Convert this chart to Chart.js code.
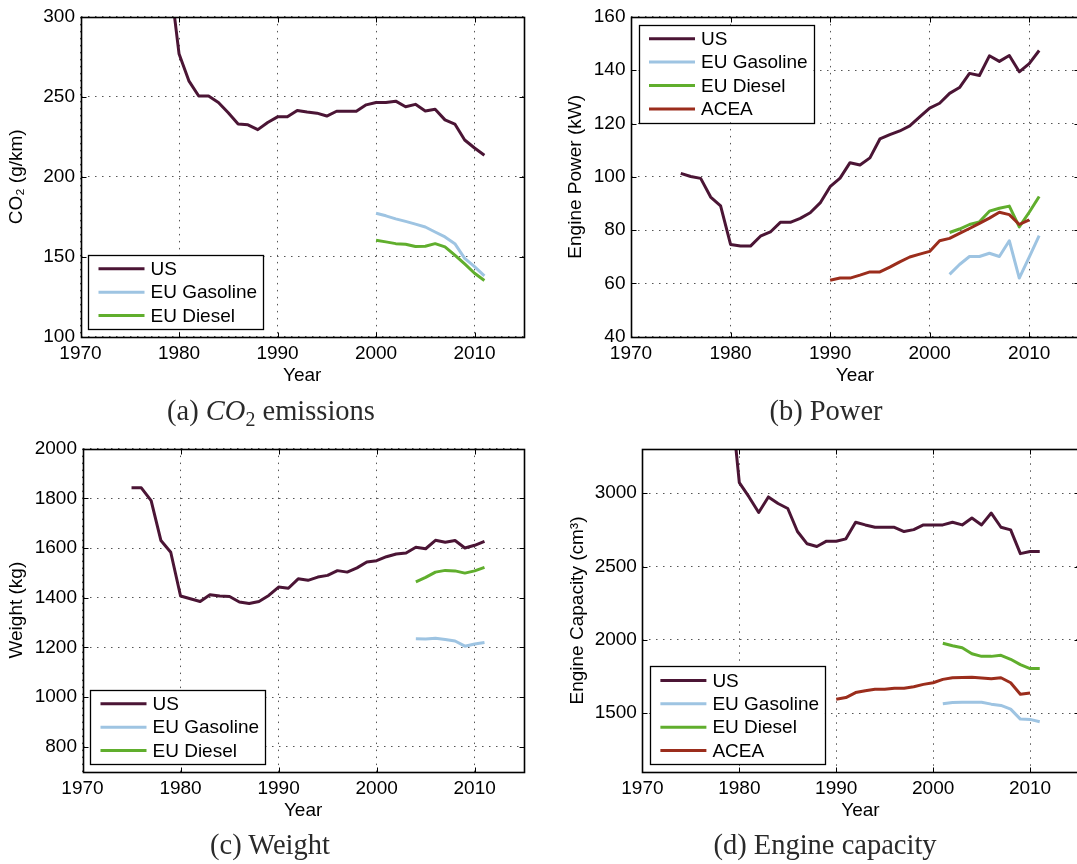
<!DOCTYPE html>
<html>
<head>
<meta charset="utf-8">
<script src="https://cdn.jsdelivr.net/npm/chart.js@4.4.1/dist/chart.umd.min.js"></script>
<style>
  html, body { margin: 0; padding: 0; background: #fff; width: 1077px; height: 864px; overflow: hidden; }
  canvas { position: absolute; left: 0; top: 0; }
  .cap {
    position: absolute; white-space: nowrap; transform: translate(-50%, -50%);
    font-family: "Liberation Serif", "DejaVu Serif", serif; font-size: 28.5px; color: #2a2a2a;
  }
  .cap sub { font-size: 0.7em; vertical-align: baseline; position: relative; top: 0.3em; }
</style>
</head>
<body>
<canvas id="co2" width="1085" height="864"></canvas>
<canvas id="power" width="1085" height="864"></canvas>
<canvas id="weight" width="1085" height="864"></canvas>
<canvas id="capacity" width="1085" height="864"></canvas>

<div class="cap" style="left:271px; top:411px">(a) <i>CO</i><sub>2</sub> emissions</div>
<div class="cap" style="left:826px; top:411px">(b) Power</div>
<div class="cap" style="left:270px; top:845px">(c) Weight</div>
<div class="cap" style="left:825px; top:845px">(d) Engine capacity</div>

<script>
// ---- years ----
const yrs1975 = [1975,1976,1977,1978,1979,1980,1981,1982,1983,1984,1985,1986,1987,1988,1989,1990,1991,1992,1993,1994,1995,1996,1997,1998,1999,2000,2001,2002,2003,2004,2005,2006,2007,2008,2009,2010,2011];
const yrs1979 = [1979,1980,1981,1982,1983,1984,1985,1986,1987,1988,1989,1990,1991,1992,1993,1994,1995,1996,1997,1998,1999,2000,2001,2002,2003,2004,2005,2006,2007,2008,2009,2010,2011];
const yrsAcea = [1990,1991,1992,1993,1994,1995,1996,1997,1998,1999,2000,2001,2002,2003,2004,2005,2006,2007,2008,2009,2010];
const yrs2000 = [2000,2001,2002,2003,2004,2005,2006,2007,2008,2009,2010,2011];
const yrs2001 = [2001,2002,2003,2004,2005,2006,2007,2008,2009,2010,2011];
const yrs2002 = [2002,2003,2004,2005,2006,2007,2008,2009,2010,2011];
const yrs2004 = [2004,2005,2006,2007,2008,2009,2010,2011];

// ---- (a) CO2 emissions, g/km ----
const co2US = [328,277,260,250.5,250.5,246.5,240,233,232.5,229.5,234,237.5,237.5,241.5,240.5,239.8,238,241,241,241,245,246.5,246.5,247.3,243.8,245.3,241.2,242.2,235.6,233,223,218,213.5];
const co2Gasoline = [177.2,175.6,173.7,172.1,170.4,168.6,165.5,162.4,158.2,149,143.8,138];
const co2Diesel = [160.3,159.3,158.2,157.8,156.4,156.6,158.2,156.2,151,145.5,139.7,135.2];

// ---- (b) engine power, kW ----
const powerUS = [101.3,100.1,99.4,92.4,89.1,74.6,74.0,74.0,77.7,79.3,82.9,82.9,84.4,86.5,90.2,96.3,99.5,105.3,104.4,107.1,114.2,115.8,117.2,119.1,122.5,125.8,127.6,131.3,133.5,138.8,138.0,145.4,143.3,145.5,139.4,142.5,147.4];
const powerGasoline = [63.4,67.1,70.1,70.1,71.3,70.1,76.0,62.0,69.9,77.9];
const powerDiesel = [79.1,80.4,82.1,83.1,87.1,88.2,89.0,81.2,86.7,92.6];
const powerACEA = [61.2,62.0,62.0,63.1,64.3,64.3,66.1,68.1,69.9,71.0,72.0,76.0,76.9,78.8,80.6,82.5,84.5,86.7,85.8,82.1,83.8];

// ---- (c) weight, kg ----
const weightUS = [1842,1842,1791,1630,1583,1407,1396,1385,1412,1407,1405,1383,1377,1385,1409,1443,1438,1476,1470,1483,1490,1509,1503,1520,1544,1549,1565,1576,1580,1603,1597,1631,1623,1630,1600,1611,1627];
const weightGasoline = [1235,1234,1237,1232,1226,1205,1214,1220];
const weightDiesel = [1464,1482,1503,1510,1508,1499,1508,1522];

// ---- (d) engine capacity, cm3 ----
const capUS = [3740,3072,2975,2869,2975,2930,2896,2739,2655,2637,2673,2673,2689,2802,2784,2768,2768,2768,2739,2752,2784,2784,2784,2802,2784,2831,2784,2865,2768,2750,2588,2603,2603];
const capGasoline = [1563,1572,1574,1574,1574,1561,1552,1527,1459,1457,1441];
const capDiesel = [1977,1959,1946,1905,1887,1887,1894,1867,1831,1804,1804];
const capACEA = [1595,1606,1640,1653,1662,1662,1669,1669,1680,1696,1707,1730,1741,1743,1745,1739,1734,1741,1707,1628,1637];

// ---- tick labels ----
const yearTicks = [1970,1980,1990,2000,2010];
const co2Ticks = [100,150,200,250,300];
const powerTicks = [40,60,80,100,120,140,160];
const weightTicks = [800,1000,1200,1400,1600,1800,2000];
const capTicks = [1500,2000,2500,3000];

const COLORS = { US: '#4b1535', 'EU Gasoline': '#9ec4e2', 'EU Diesel': '#60ae2d', ACEA: '#9b2d1c' };
const FONT = '"Liberation Sans", Arial, Helvetica, sans-serif';
const CANVAS_H = 864;
const Y_AXIS_W = 80;
const X_AXIS_H = 50;
const plain = v => String(v);

function series(label, years, values, idx, total) {
  return {
    label,
    data: years.map((yr, i) => ({ x: yr, y: values[i] })),
    borderColor: COLORS[label],
    backgroundColor: COLORS[label],
    borderWidth: 3,
    pointRadius: 0,
    tension: 0,
    fill: false,
    clip: 0,
    borderJoinStyle: 'round',
    order: total - idx   // later series are painted above earlier ones
  };
}

// Closed axes box with short inward tick marks on every side
const framePlugin = {
  id: 'frame',
  afterDatasetsDraw(chart) {
    const { ctx, chartArea: a, scales: { x, y } } = chart;
    const L = Math.round(a.left) + 0.5, R = Math.round(a.right) + 0.5;
    const T = Math.round(a.top) + 0.5, B = Math.round(a.bottom) + 0.5;
    ctx.save();
    ctx.strokeStyle = '#000';
    ctx.lineWidth = 1;
    ctx.beginPath();
    x.ticks.forEach(t => {
      const px = Math.round(x.getPixelForValue(t.value)) + 0.5;
      ctx.moveTo(px, B); ctx.lineTo(px, B - 5);
      ctx.moveTo(px, T); ctx.lineTo(px, T + 5);
    });
    y.ticks.forEach(t => {
      const py = Math.round(y.getPixelForValue(t.value)) + 0.5;
      ctx.moveTo(L, py); ctx.lineTo(L + 5, py);
      ctx.moveTo(R, py); ctx.lineTo(R - 5, py);
    });
    ctx.stroke();
    ctx.lineWidth = 1.6;
    ctx.strokeRect(L, T, R - L, B - T);
    ctx.restore();
  }
};

// Boxed legend placed inside the plot area
const boxLegendPlugin = {
  id: 'boxLegend',
  afterDraw(chart, args, opts) {
    const { ctx, chartArea: a } = chart;
    const sets = chart.data.datasets;
    const rowH = 23.4, boxW = 175;
    const boxH = sets.length * rowH + 4;
    const left = a.left + 7.5;
    const top = opts.corner === 'top' ? a.top + 7.8 : a.bottom - 7.7 - boxH;
    ctx.save();
    ctx.fillStyle = '#fff';
    ctx.fillRect(left, top, boxW, boxH);
    ctx.strokeStyle = '#000';
    ctx.lineWidth = 1.3;
    ctx.strokeRect(Math.round(left) + 0.5, Math.round(top) + 0.5, boxW, Math.round(boxH));
    ctx.font = '19px ' + FONT;
    ctx.textBaseline = 'middle';
    ctx.textAlign = 'left';
    sets.forEach((ds, i) => {
      const cy = top + 14 + i * rowH;
      ctx.strokeStyle = ds.borderColor;
      ctx.lineWidth = 3;
      ctx.beginPath();
      ctx.moveTo(left + 10.5, cy);
      ctx.lineTo(left + 56.5, cy);
      ctx.stroke();
      ctx.fillStyle = '#000';
      ctx.fillText(ds.label, left + 62.5, cy + 1);
    });
    ctx.restore();
  }
};

function makePanel(id, cfg) {
  const canvasW = 1085;
  new Chart(document.getElementById(id), {
    type: 'line',
    data: { datasets: cfg.datasets },
    plugins: [framePlugin, boxLegendPlugin],
    options: {
      responsive: false,
      animation: false,
      events: [],
      layout: {
        padding: {
          left: cfg.area.left - Y_AXIS_W,
          right: canvasW - cfg.area.right,
          top: cfg.area.top,
          bottom: CANVAS_H - cfg.area.bottom - X_AXIS_H
        }
      },
      plugins: {
        legend: { display: false },
        tooltip: { enabled: false },
        boxLegend: { corner: cfg.legendCorner }
      },
      scales: {
        x: {
          type: 'linear',
          min: 1970, max: 2015,
          afterBuildTicks: s => { s.ticks = yearTicks.map(v => ({ value: v })); },
          afterFit: s => { s.height = X_AXIS_H; },
          ticks: { autoSkip: false, maxRotation: 0, padding: 6, color: '#000', callback: plain, font: { family: FONT, size: 19 } },
          grid: { color: '#555', lineWidth: 1, drawTicks: false },
          border: { display: false, dash: [1.5, 5.5] },
          title: { display: true, text: 'Year', color: '#000', padding: { top: 0, bottom: 0 }, font: { family: FONT, size: 19 } }
        },
        y: {
          type: 'linear',
          min: cfg.yMin, max: cfg.yMax,
          afterBuildTicks: s => { s.ticks = cfg.yTicks.map(v => ({ value: v })); },
          afterFit: s => { s.width = Y_AXIS_W; },
          ticks: { autoSkip: false, padding: 5.5, color: '#000', callback: plain, font: { family: FONT, size: 19 } },
          grid: { color: '#555', lineWidth: 1, drawTicks: false },
          border: { display: false, dash: [1.5, 5.5] },
          title: { display: true, text: cfg.yTitle, color: '#000', padding: { top: cfg.yTitlePad, bottom: 0 }, font: { family: FONT, size: 19 } }
        }
      }
    }
  });
}

makePanel('co2', {
  area: { left: 80.5, right: 523.8, top: 14.2, bottom: 336.7 },
  yMin: 100, yMax: 300, yTicks: co2Ticks, yTitle: 'CO\u2082 (g/km)', yTitlePad: 5.3,
  legendCorner: 'bottom',
  datasets: [
    series('US', yrs1979, co2US, 0, 3),
    series('EU Gasoline', yrs2000, co2Gasoline, 1, 3),
    series('EU Diesel', yrs2000, co2Diesel, 2, 3)
  ]
});

makePanel('power', {
  area: { left: 631, right: 1079, top: 11.5, bottom: 336.7 },
  yMin: 40, yMax: 160, yTicks: powerTicks, yTitle: 'Engine Power (kW)', yTitlePad: 13.6,
  legendCorner: 'top',
  datasets: [
    series('US', yrs1975, powerUS, 0, 4),
    series('EU Gasoline', yrs2002, powerGasoline, 1, 4),
    series('EU Diesel', yrs2002, powerDiesel, 2, 4),
    series('ACEA', yrsAcea, powerACEA, 3, 4)
  ]
});

makePanel('weight', {
  area: { left: 82.5, right: 523.7, top: 448.6, bottom: 771.7 },
  yMin: 700, yMax: 2000, yTicks: weightTicks, yTitle: 'Weight (kg)', yTitlePad: 3.1,
  legendCorner: 'bottom',
  datasets: [
    series('US', yrs1975, weightUS, 0, 3),
    series('EU Gasoline', yrs2004, weightGasoline, 1, 3),
    series('EU Diesel', yrs2004, weightDiesel, 2, 3)
  ]
});

makePanel('capacity', {
  area: { left: 642.4, right: 1078.5, top: 449.3, bottom: 771.7 },
  yMin: 1100, yMax: 3300, yTicks: capTicks, yTitle: 'Engine Capacity (cm\u00B3)', yTitlePad: 3.9,
  legendCorner: 'bottom',
  datasets: [
    series('US', yrs1979, capUS, 0, 4),
    series('EU Gasoline', yrs2001, capGasoline, 1, 4),
    series('EU Diesel', yrs2001, capDiesel, 2, 4),
    series('ACEA', yrsAcea, capACEA, 3, 4)
  ]
});
</script>
</body>
</html>
